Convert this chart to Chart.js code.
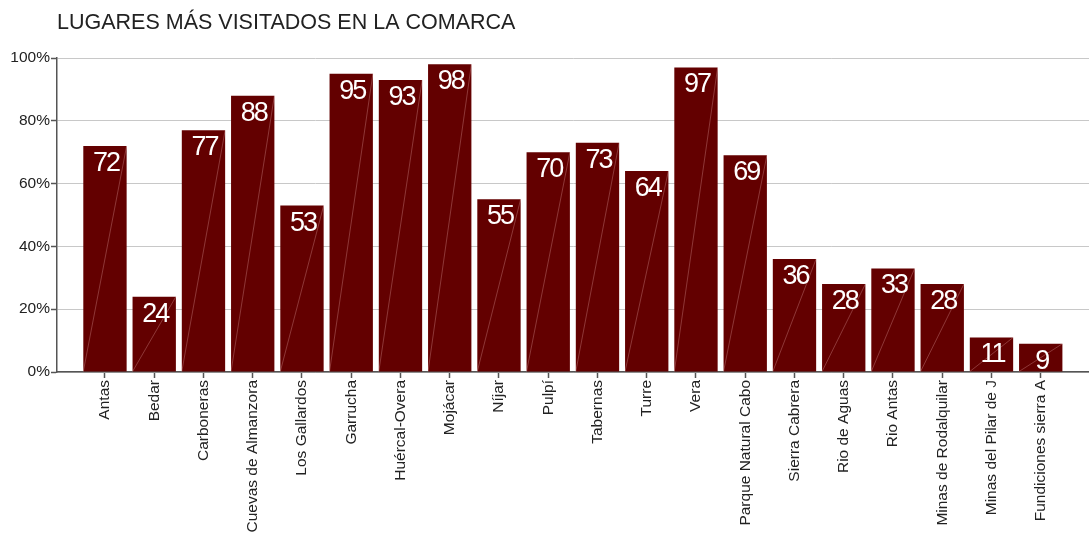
<!DOCTYPE html>
<html>
<head>
<meta charset="utf-8">
<script src="https://cdn.jsdelivr.net/npm/chart.js@4"></script>
<style>
  html, body { margin: 0; padding: 0; background: #fff; }
  #wrap { width: 1089px; height: 535px; }
</style>
</head>
<body>
<div id="wrap"><canvas id="chart" width="1089" height="535"></canvas></div>
<script>
/* Lugares más visitados en la comarca */

const TITLE = 'LUGARES MÁS VISITADOS EN LA COMARCA';

const places = [
  'Antas', 'Bedar', 'Carboneras', 'Cuevas de Almanzora', 'Los Gallardos',
  'Garrucha', 'Huércal-Overa', 'Mojácar', 'Níjar', 'Pulpí',
  'Tabernas', 'Turre', 'Vera', 'Parque Natural Cabo', 'Sierra Cabrera',
  'Rio de Aguas', 'Rio Antas', 'Minas de Rodalquilar', 'Minas del Pilar de J', 'Fundiciones sierra A'
];
const visits = [72, 24, 77, 88, 53, 95, 93, 98, 55, 70, 73, 64, 97, 69, 36, 28, 33, 28, 11, 9];
const yTicks = [0, 20, 40, 60, 80, 100];

const BAR = '#630000';
const AXIS = '#555555';
const FONT = '"Liberation Sans", Arial, sans-serif';

// title + value labels + diagonal stripe inside each bar
const decor = {
  id: 'decor',
  afterDatasetsDraw(chart) {
    const ctx = chart.ctx;
    const meta = chart.getDatasetMeta(0);
    ctx.save();
    meta.data.forEach((bar, i) => {
      const left = bar.x - bar.width / 2, right = bar.x + bar.width / 2;
      ctx.strokeStyle = 'rgba(255,200,200,0.35)';
      ctx.lineWidth = 0.8;
      ctx.beginPath();
      ctx.moveTo(left, bar.base);
      ctx.lineTo(right, bar.y);
      ctx.stroke();

      ctx.fillStyle = '#fff';
      ctx.font = '27px ' + FONT;
      ctx.letterSpacing = '-2px';
      ctx.textAlign = 'center';
      ctx.textBaseline = 'top';
      ctx.fillText(String(visits[i]), bar.x + 1, bar.y + 4);
    });
    ctx.letterSpacing = '0px';
    ctx.fillStyle = '#222';
    ctx.font = '21.5px ' + FONT;
    ctx.textAlign = 'left';
    ctx.textBaseline = 'middle';
    ctx.fillText(TITLE, 57, 23);
    ctx.restore();
  }
};

new Chart(document.getElementById('chart'), {
  type: 'bar',
  data: {
    datasets: [{
      data: places.map((p, i) => ({ x: i, y: visits[i] })),
      backgroundColor: BAR,
      borderWidth: 0,
      barPercentage: 0.88,
      categoryPercentage: 1
    }]
  },
  options: {
    responsive: false,
    animation: false,
    layout: { padding: { top: 58, right: 0, left: 0, bottom: 0 } },
    plugins: { legend: { display: false }, tooltip: { enabled: false }, title: { display: false } },
    scales: {
      x: {
        type: 'linear',
        offset: false,
        min: -0.974,
        max: 19.98,
        afterBuildTicks: s => { s.ticks = places.map((p, i) => ({ value: i })); },
        afterFit: s => { s.height = 163; },
        grid: { offset: false, drawOnChartArea: false, tickLength: 6, tickColor: AXIS, tickWidth: 1.5 },
        border: { color: AXIS, width: 1.5 },
        ticks: {
          autoSkip: false,
          minRotation: 90,
          maxRotation: 90,
          padding: 2,
          color: '#222',
          font: { family: FONT, size: 15.5 },
          callback: v => places[v] ?? ''
        }
      },
      y: {
        min: 0,
        max: 100,
        afterBuildTicks: s => { s.ticks = yTicks.map(v => ({ value: v })); },
        afterFit: s => { s.width = 57; },
        grid: { color: '#c8c8c8', lineWidth: 1, tickLength: 6, tickColor: AXIS, tickWidth: 1.5 },
        border: { color: AXIS, width: 1.5 },
        ticks: {
          padding: 1,
          color: '#222',
          font: { family: FONT, size: 15.5 },
          callback: v => v + '%'
        }
      }
    }
  },
  plugins: [decor]
});
</script>
</body>
</html>
